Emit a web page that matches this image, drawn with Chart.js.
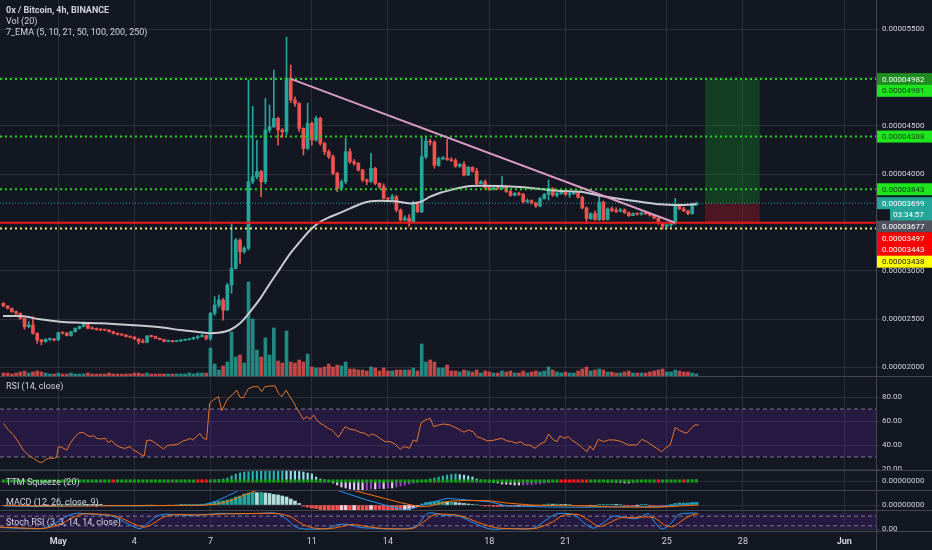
<!DOCTYPE html>
<html>
<head>
<meta charset="utf-8">
<title>0x / Bitcoin, 4h, BINANCE</title>
<script src="https://cdn.jsdelivr.net/npm/chart.js@4.4.1/dist/chart.umd.min.js"></script>
<style>
  html, body { margin: 0; padding: 0; background: #131722; }
  #wrap { position: relative; width: 932px; height: 550px; overflow: hidden; background: #131722; font-family: Roboto, 'Noto Sans', sans-serif; }
  .pane { position: absolute; left: 0; width: 932px; }
  .pane canvas { display: block; }
  .sep { position: absolute; left: 0; width: 932px; height: 1px; background: #434651; }
  .vsep { position: absolute; left: 876px; top: 0; width: 1px; height: 550px; background: #434651; }
  .lbl { position: absolute; left: 6px; color: #d1d4dc; font-size: 9px; line-height: 11px; white-space: nowrap; }
</style>
</head>
<body>
<div id="wrap">
  <div class="pane" style="top:0;height:376px"><canvas id="mainChart" width="932" height="376"></canvas></div>
  <div class="pane" style="top:377px;height:93px"><canvas id="rsiChart" width="932" height="93"></canvas></div>
  <div class="pane" style="top:471px;height:19px"><canvas id="ttmChart" width="932" height="19"></canvas></div>
  <div class="pane" style="top:491px;height:19px"><canvas id="macdChart" width="932" height="19"></canvas></div>
  <div class="pane" style="top:511px;height:39px"><canvas id="stochChart" width="932" height="39"></canvas></div>
  <div class="sep" style="top:376px"></div>
  <div class="sep" style="top:470px"></div>
  <div class="sep" style="top:490px"></div>
  <div class="sep" style="top:510px"></div>
  <div class="sep" style="top:531px"></div>
  <div class="vsep"></div>
  <div class="lbl" style="top:5px;font-weight:bold">0x / Bitcoin, 4h, BINANCE</div>
  <div class="lbl" style="top:16px">Vol (20)</div>
  <div class="lbl" style="top:27px">7_EMA (5, 10, 21, 50, 100, 200, 250)</div>
  <div class="lbl" style="top:381px">RSI (14, close)</div>
  <div class="lbl" style="top:477px">TTM Squeeze (20)</div>
  <div class="lbl" style="top:497px">MACD (12, 26, close, 9)</div>
  <div class="lbl" style="top:517px">Stoch RSI (3, 3, 14, 14, close)</div>
</div>
<script>
// prices are in satoshi (1e-8 BTC), one entry per 4h candle
const firstOpen = 2663;
const closes = [
  2636,2612,2578,2560,2508,2422,2440,2353,2284,2267,
  2290,2295,2285,2360,2355,2330,2370,2405,2425,2460,
  2405,2400,2392,2388,2386,2370,2353,2343,2336,2319,
  2315,2295,2267,2262,2326,2320,2302,2290,2270,2275,
  2268,2275,2282,2288,2295,2308,2319,2330,2300,2560,
  2646,2697,2594,2853,3025,3318,3197,3232,3921,3973,
  4025,3921,4456,4490,4576,4456,4438,4990,4766,4731,
  4473,4266,4524,4352,4576,4318,4232,4180,4008,3852,
  3921,4232,4128,4111,4042,3939,3925,4059,3904,3870,
  3749,3740,3766,3628,3525,3545,3508,3697,3611,4180,
  4340,4330,4090,4160,4165,4150,4140,4080,4100,3990,
  4070,4030,3900,3920,3860,3840,3860,3850,3865,3820,
  3780,3800,3790,3715,3725,3700,3670,3745,3790,3850,
  3780,3800,3810,3790,3795,3810,3760,3650,3540,3590,
  3530,3710,3530,3640,3620,3615,3630,3600,3570,3590,
  3585,3595,3590,3575,3545,3490,3460,3475,3490,3680,
  3640,3620,3590,3680,3699
];
const highs = [
  2672,2640,2615,2585,2565,2510,2475,2525,2360,2290,
  2300,2305,2300,2365,2370,2362,2375,2410,2430,2475,
  2462,2420,2410,2400,2395,2392,2375,2360,2350,2340,
  2325,2320,2300,2295,2330,2335,2325,2305,2292,2282,
  2280,2280,2288,2295,2300,2315,2330,2345,2335,2570,
  2732,2749,2715,2870,3490,3335,3330,3250,4973,4700,
  4350,4040,4783,4714,5076,4590,4470,5417,5128,4800,
  4740,4480,4731,4540,4600,4590,4330,4250,4200,4020,
  3940,4370,4260,4150,4120,4050,3950,4215,4070,3910,
  3900,3760,3790,3780,3640,3570,3580,3720,3710,4387,
  4380,4360,4345,4175,4180,4360,4170,4160,4110,4130,
  4080,4075,4060,3935,3940,3870,3870,3870,3973,3870,
  3830,3810,3815,3800,3745,3735,3710,3760,3800,3939,
  3860,3810,3820,3820,3810,3820,3815,3770,3660,3600,
  3620,3783,3720,3650,3660,3650,3645,3640,3610,3600,
  3600,3610,3600,3600,3580,3550,3500,3485,3495,3749,
  3690,3660,3625,3700,3710
];
const lows = [
  2630,2605,2570,2550,2500,2395,2410,2345,2250,2233,
  2260,2280,2275,2280,2345,2325,2325,2365,2395,2420,
  2400,2395,2385,2380,2380,2365,2345,2335,2330,2315,
  2305,2290,2242,2255,2255,2312,2298,2285,2265,2265,
  2262,2265,2270,2278,2285,2290,2295,2315,2285,2280,
  2540,2620,2490,2590,2767,3020,3077,3180,3215,3900,
  3950,3766,3900,4430,4480,4300,4380,4404,4740,4700,
  4440,4197,4250,4300,4340,4300,4200,4160,3990,3818,
  3830,3900,4110,4090,4030,3920,3890,3910,3890,3850,
  3740,3720,3730,3610,3510,3515,3460,3500,3600,3600,
  4160,4300,4060,4080,4150,4140,4130,4070,4070,3980,
  3985,4020,3890,3900,3850,3830,3835,3840,3845,3810,
  3770,3775,3780,3700,3700,3690,3655,3660,3740,3730,
  3770,3760,3790,3780,3760,3790,3750,3640,3490,3530,
  3520,3520,3520,3525,3610,3600,3610,3590,3560,3570,
  3575,3575,3580,3565,3535,3480,3430,3440,3450,3480,
  3630,3610,3580,3585,3680
];
const volumes = [
  3,3,2,3,4,5,3,4,5,4, 3,2,2,3,2,2,3,2,2,2, 3,2,2,2,2,3,2,2,2,2,
  2,3,3,2,3,2,2,2,2,2, 2,2,2,2,3,2,3,3,3,
  28,12,6,10,14,44,19,21,13,94,
  57,26,19,38,21,48,15,13,45,14,
  13,16,14,22,9,8,8,9,12,9,
  11,10,14,7,7,6,6,5,9,8,
  5,8,5,5,6,6,6,6,8,5,
  32,14,16,14,8,8,11,5,5,4,
  6,5,4,6,3,5,4,3,3,5,
  4,5,3,3,5,3,4,5,4,5,
  9,6,4,3,4,3,3,5,7,9,
  5,6,7,6,4,4,3,3,4,5,
  3,3,3,3,4,5,6,7,4,4,
  6,5,4,4,3,2
];
// EMA line: [candle index, price]
const emaPoints = [
  [-0.1,2532],[3.9,2532],[8.7,2498],[13.4,2473],[18.1,2463],[22.9,2457],[30,2439],[37.1,2415],
  [41.8,2388],[46.5,2364],[48.9,2355],[51,2360],[53.6,2388],[56,2457],[58.4,2577],[60.8,2715],
  [63.1,2870],[65.5,3025],[67.9,3181],[70.2,3301],[72.6,3422],[75,3507],[77.4,3559],[79.8,3601],
  [82.1,3646],[84.5,3691],[86.9,3718],[89.2,3725],[92.7,3718],[96.3,3697],[98.7,3712],[101,3766],
  [103.4,3807],[105.8,3835],[108.1,3859],[110.5,3877],[112.9,3880],[117.6,3877],[122.3,3866],
  [127.1,3846],[131.8,3825],[136.5,3818],[141.2,3776],[146,3742],[150.7,3715],[155.4,3687],
  [160.2,3680],[164,3687]
];
const trendPoints = [[68,4985],[159,3497]];
const greenLevels = [4982, 4388, 3843];
const redLevel = 3497;
const yellowLevel = 3438;
const lastPrice = 3699;
const boxStart = 166, boxEnd = 179, boxTarget = 4982, boxStop = 3497;

const dateTicks = [13, 31, 49, 73, 91, 115, 133, 157, 175, 199];
const dateLabels = ['May', '4', '7', '11', '14', '18', '21', '25', '28', 'Jun'];
const priceTicks = [2000, 2500, 3000, 3500, 4000, 4500, 5000, 5500];
const hiddenPriceTicks = [3500, 5000];

const markerPrices = [4982, 4981, 4388, 3843, 3699, 3699, 3677, 3497, 3443, 3438];
const markerTexts  = ['', '', '', '', '', '03:34:57', '', '', '', ''];
const markerBg = ['#1e8c1e', '#1ee61e', '#1ee61e', '#1ee61e', '#26a69a', '#26a69a', '#50535e', '#ff0000', '#ff0000', '#ffff00'];
const markerFg = ['#ffffff', '#0b3d0b', '#0b3d0b', '#0b3d0b', '#ffffff', '#ffffff', '#ffffff', '#ffffff', '#ffffff', '#222222'];

const rsiPoints = [
  [0,58],[1.2,52.5],[2.4,48.3],[3.5,42.8],[4.7,35.8],[5.9,31.7],[7.1,28.9],[8.3,26.1],[9.1,25.3],[9.9,27.5],
  [10.6,28.9],[11.8,28.9],[12.6,29.7],[13,38.6],[13.8,38.1],[15,35.8],[15.8,41.4],[17,47],[17.7,49.7],[18.8,50.6],
  [19.7,48.3],[20.5,47],[21.3,47.8],[22.1,45.6],[22.9,45],[24.1,45.6],[24.8,42.1],[25.6,43.6],[26.4,40.8],[27.6,38.1],
  [28.8,37.2],[30,38.6],[30.8,35.8],[32,33.6],[32.7,31.7],[33.3,30.8],[33.9,43.6],[34.7,44.2],[35.5,42.8],[36.3,40.8],
  [37.1,38.6],[37.9,36.7],[38.7,39.2],[39.4,40],[40.2,40],[41.4,40.8],[42.6,43.6],[43.4,44.2],[44.2,45.6],[44.8,44.2],
  [45.7,47],[46.5,49.7],[47.3,45.6],[48.1,44.7],[48.8,74.7],[49.7,77.5],[50.9,80.3],[51.7,68.6],[52.9,77.5],[53.6,80.3],
  [54.4,82.5],[55.2,85.8],[56,79.7],[56.8,79.4],[58,87.2],[59.2,88.6],[60.3,88.6],[61.1,84.4],[61.9,88.6],[63.1,89.2],
  [64.3,89.2],[65.1,83.1],[65.9,80.3],[66.9,85.8],[67.8,80.3],[68.6,76.1],[69.4,70.6],[70.2,66.4],[71,61.4],[71.8,63.6],
  [72.6,61.4],[73.4,65],[74.2,60.8],[74.9,58.1],[75.7,56.7],[76.9,53.9],[77.7,52.5],[78.5,49.7],[79.3,46.4],[80.1,51.1],
  [80.9,55.3],[82,53.1],[83.2,52.5],[84.4,50.6],[85.6,49.7],[86.4,47.5],[87.2,49.2],[88,48.3],[89.1,45.6],[90.3,42.8],
  [91.5,42.8],[92.7,40.8],[93.9,36.4],[94.7,38.6],[95.5,38.1],[96.1,37.2],[97,44.2],[97.8,42.8],[98.8,58.1],[99.8,60.8],
  [101,62.2],[101.8,55.3],[103,56.7],[104.1,57.5],[105.7,56.7],[106.9,54.7],[108.1,52.5],[109,50.6],[110,52.5],[111.2,51.1],
  [112,47],[113.2,45.6],[114.4,43.6],[115.6,43.6],[116.8,44.7],[117.9,45.6],[119.1,43.6],[120.3,42.8],[121.5,41.4],[122.3,42.8],
  [123.5,40],[124.6,40],[125.8,37.2],[127,40.8],[128.2,42.8],[129,49.2],[130.2,44.2],[131,42.8],[131.7,47.5],[132.7,45.6],
  [133.7,47],[134.5,44.2],[135.7,41.4],[136.9,38.1],[138.1,34.4],[138.8,39.2],[139.6,35.8],[140.8,44.7],[142,42.8],[143.2,44.2],
  [144.4,44.2],[145.6,43.6],[146.7,42],[147.9,40],[149.1,40],[149.9,40],[151.1,44.7],[152.3,42.8],[153.4,40],[154.6,37.2],
  [155.8,34.4],[156.6,37.2],[157.8,40],[159,54.7],[160.1,51.9],[161.7,49.7],[162.9,54.7],[163.7,56.7],[164.5,56.7]
];

const ttmVals = [
  0,0,0,0,0,0,0,0,0,0, 0,0,0,0,0,0,0,0,0,0, 0,0,0,0,0,0,0,0,0,0,
  0,0,0,0,0,0,0,0,0,0, 0,0,0,0,0,0,0,0,0,0,
  1,1.5,2,3,5,7,8,9,9.2,9.5,
  9.7,9.8,10,10.2,10.4,10.5,10.6,10.4,10.2,10,
  9.5,9,8,7,4,2,1,0.5,
  -2,-4,-6,-7,-8,-8.5,-9,-9,-8.5,-8,-8,-7.5,-7.5,-7,-7,-6,-5,-4,-3,-2,-1,
  0,1,2,3,4,5,6,6.5,7,6.5,6,5,4,2,1,0.3,
  -1,-1.5,-2,-3,-3.2,-3.5,-4,-4,-3.8,-3.6,-3.5,-3,-2.8,-2,-1.5,-1,-0.3,
  0,0,0,0,0,0,0,0,0,0,0,-1,-1,-1.2,-1.5,-2,-2,-1.8,-1,-0.8,
  0,0,0,0,0,0,0,0,0.5,0.8,1,1,1.2
];
const ttmRedIdx = [26, 46, 47, 48, 132, 133, 134, 135, 136, 137, 138, 155, 161];

const macdHist = [
  -0.5,-0.5,-0.6,-0.6,-0.8,-1,-0.8,-1,-1.2,-1,
  -0.8,-0.5,-0.3,0.3,0.5,0.4,0.6,0.8,0.8,1,
  0.6,0.4,0.3,0.2,-0.2,-0.3,-0.4,-0.4,-0.4,-0.5,
  -0.5,-0.6,-0.7,-0.6,-0.2,0,-0.2,-0.3,-0.3,-0.2,
  -0.2,0,0.2,0.3,0.4,0.5,0.6,0.8,0.8,2,
  3,3.5,4,5,6,8,9,11,12,12.5,
  12.3,12.5,12,11.5,10.5,10,9,8,6,4,
  1.5,-1,-2,-3,-3.5,-4.5,-5,-6,-6.5,-6.5,
  -6,-5.5,-5.5,-5,-5,-5,-5,-4.5,-4.5,-4.5,
  -5,-5,-5,-5.5,-5.5,-5,-4.5,-3,-1.5,1,
  2.5,3,3.5,3.5,3.5,3,3,2.5,2,1.5,
  1,0.5,0.5,-0.5,-1,-1,-1.5,-1.5,-1,-1,
  -1.5,-1.5,-1,-1,-1,-0.5,-0.5,-0.5,0.5,1,
  0.8,0.8,0.5,0.3,0.3,-0.3,-0.5,-0.8,-1,-0.8,
  -0.5,0.3,0.3,0.3,0.3,0.2,0.2,-0.2,-0.3,-0.3,
  -0.2,0.2,0.2,-0.2,-0.4,-0.6,-0.8,-0.5,0.3,1.5,
  2,2,2,2.5,2.5
];
const macdLine = [
  [0,-1],[10,-1.5],[20,-0.5],[30,-1],[40,-0.5],[47,0],[49,2],[51,5],[53,9],[55,13],[57,18],[62,26],
  [68,28],[74,22],[80,13.3],[86,5],[92,-2],[95,-5],[98,-2],[101,2.3],[105,6.7],[110,5],[115,3.3],
  [119,-1],[125,-1.5],[130,-2],[139,-2.3],[145,-1.7],[155,-1.7],[160,0],[164.5,2.3]
];
const macdSignal = [
  [0,-0.5],[10,-1],[20,-1],[30,-0.5],[40,-0.5],[47,-0.3],[50,0.5],[53,3.3],[57,10],[59,13],[64,22],
  [70,25],[78,20],[85,12.3],[94,2.3],[98.6,-1.7],[101,-1],[105.7,4],[110,4.5],[115,4.3],[119,2],
  [125,0],[130,-0.5],[139,-1],[145,-2],[155,-2.3],[160,-1],[164.5,0]
];

const stochK = [
  [-0.8,10],[3.1,5],[7.1,2],[9.5,5],[12.6,40],[15,80],[17.3,98],[19.7,95],[22.9,88],[25.2,85],
  [27.6,60],[30,25],[32.3,3],[33.9,30],[36.3,80],[38.7,92],[43.4,85],[48.1,90],[51.3,98],[56,95],
  [60.7,98],[64.7,98],[67.1,60],[69.4,10],[71.8,0],[76.5,2],[78.9,25],[81.3,30],[84.4,10],[87.6,5],
  [90.7,0],[95.5,2],[97.8,20],[100.2,95],[101.8,100],[104.1,85],[107.3,85],[111.2,40],[115.2,0],[119.1,2],
  [125.4,5],[128.6,60],[131,95],[134.9,90],[137.3,40],[139.6,5],[142,40],[144.4,80],[147.5,70],[149.9,65],
  [152.6,95],[154.2,40],[155.8,0],[157.8,30],[159.8,90],[161.7,98],[164.1,100]
];
const stochD = [
  [-0.8,12],[3,8],[7,4],[10,5],[13.5,30],[16,65],[18.5,92],[21,95],[24,90],[27,78],[29,55],[31.5,25],
  [33.5,12],[35.5,35],[38,75],[41,90],[46,88],[50,92],[55,96],[60,97],[65,96],[68,75],[70.5,35],[73,8],
  [77,2],[80,15],[82.5,28],[85.5,18],[89,5],[93,1],[97,5],[99.5,45],[102,90],[105,92],[108.5,80],[112.5,40],
  [116.5,8],[121,2],[126,4],[130,45],[132.5,85],[136,90],[138.5,55],[141,15],[143.5,40],[146,70],[149,70],
  [151.5,75],[154,70],[156.5,25],[158.5,15],[161,60],[163,88],[164.5,95]
];

// ---- styling ----
const X_MIN = -0.8, X_MAX = 206.5;
const GRID = '#2a2e39';
const TEXT = '#d1d4dc';
const FONT = 'Roboto, "Noto Sans", sans-serif';
const UP = '#26a69a', DOWN = '#ef5350';
Chart.defaults.font.family = FONT;

const fmtPrice = v => (v * 1e-8).toFixed(8);
const pts = arr => arr.map(([x, y]) => ({ x, y }));

const opens = closes.map((c, i) => i === 0 ? firstOpen : closes[i - 1]);
const candleColors = closes.map((c, i) => c >= opens[i] ? UP : DOWN);

function hLine(v, color, width, dash, order) {
  return {
    type: 'line', data: [{ x: X_MIN, y: v }, { x: X_MAX, y: v }],
    borderColor: color, borderWidth: width, borderDash: dash,
    pointRadius: 0, order
  };
}

// no automatic padding: the pane edges are the value range edges
function noPad(s) { s.paddingTop = 0; s.paddingBottom = 0; s.paddingLeft = 0; s.paddingRight = 0; }

function xAxis(showLabels) {
  return {
    type: 'linear', min: X_MIN, max: X_MAX, offset: false,
    grid: { color: GRID, offset: false, drawTicks: false },
    border: { display: false },
    afterBuildTicks: s => { s.ticks = dateTicks.map(v => ({ value: v })); },
    ticks: {
      display: showLabels, autoSkip: false, maxRotation: 0, padding: 5, color: TEXT,
      font: c => ({ family: FONT, size: 9, weight: (c.tick && isNaN(+c.tick.label)) ? 'bold' : 'normal' }),
      callback: (v, i) => dateLabels[i]
    },
    afterFit: s => { s.height = showLabels ? 19 : 0; noPad(s); }
  };
}

function yAxis(min, max, ticks, fmt) {
  return {
    position: 'right', min, max,
    grid: { color: GRID, drawTicks: true, tickLength: 4 },
    border: { display: false },
    afterBuildTicks: s => { s.ticks = ticks.map(v => ({ value: v })); },
    ticks: { autoSkip: false, padding: 2, color: TEXT, font: { family: FONT, size: 8 }, callback: fmt },
    afterFit: s => { s.width = 56; noPad(s); }
  };
}

function baseOptions(scales) {
  return {
    responsive: false, animation: false, events: [],
    layout: { padding: 0, autoPadding: false },
    plugins: { legend: { display: false }, tooltip: { enabled: false } },
    scales
  };
}

// price labels stacked on the right axis
const priceMarkers = {
  id: 'priceMarkers',
  afterDraw(chart) {
    const { ctx, chartArea } = chart;
    const ys = chart.scales.y;
    let prev = -Infinity;
    ctx.save();
    ctx.font = '8px ' + FONT;
    ctx.textBaseline = 'middle';
    markerPrices.forEach((p, i) => {
      const y = Math.max(ys.getPixelForValue(p), prev + 11.7);
      prev = y;
      const left = chartArea.right + (markerTexts[i] ? 14 : 1);
      ctx.fillStyle = markerBg[i];
      ctx.fillRect(left, y - 6, chart.width - left, 12);
      ctx.fillStyle = markerFg[i];
      ctx.fillText(markerTexts[i] || fmtPrice(p), markerTexts[i] ? left + 3 : chartArea.right + 6, y + 0.5);
    });
    ctx.restore();
  }
};

// ---- main price pane ----
new Chart(document.getElementById('mainChart'), {
  type: 'bar',
  data: {
    datasets: [
      {
        data: volumes.map((v, i) => ({ x: i, y: v })), yAxisID: 'yv',
        backgroundColor: candleColors.map(c => c + 'cc'), barThickness: 3, grouped: false, order: 10
      },
      {
        type: 'line', data: [{ x: boxStart, y: boxTarget }, { x: boxEnd, y: boxTarget }],
        borderWidth: 0, pointRadius: 0, fill: { value: lastPrice },
        backgroundColor: 'rgba(20,110,40,0.45)', order: 9
      },
      {
        type: 'line', data: [{ x: boxStart, y: boxStop }, { x: boxEnd, y: boxStop }],
        borderWidth: 0, pointRadius: 0, fill: { value: lastPrice },
        backgroundColor: 'rgba(160,20,35,0.42)', order: 9
      },
      {
        data: closes.map((c, i) => ({ x: i, y: [lows[i], highs[i]] })),
        backgroundColor: candleColors, barThickness: 1, grouped: false, order: 6
      },
      {
        data: closes.map((c, i) => ({ x: i, y: [opens[i], c] })),
        backgroundColor: candleColors, barThickness: 3, minBarLength: 1, grouped: false, order: 5
      },
      hLine(lastPrice, '#26a69a', 1, [1, 2], 7),
      ...greenLevels.map(v => hLine(v, '#22d322', 2, [2, 3], 3)),
      hLine(redLevel, '#f21818', 2, [], 3),
      hLine(yellowLevel, '#e8e870', 2, [2, 3], 3),
      {
        type: 'line', data: pts(emaPoints), borderColor: '#c9cbd1', borderWidth: 2,
        pointRadius: 0, cubicInterpolationMode: 'monotone', order: 4
      },
      {
        type: 'line', data: pts(trendPoints), borderColor: '#d99bc5', borderWidth: 2,
        pointRadius: 0, order: 1
      }
    ]
  },
  options: baseOptions({
    x: xAxis(false),
    y: yAxis(1912, 5800, priceTicks, v => hiddenPriceTicks.includes(v) ? '' : fmtPrice(v)),
    yv: { display: false, min: 0, max: 376 }
  }),
  plugins: [priceMarkers]
});

// ---- RSI ----
new Chart(document.getElementById('rsiChart'), {
  type: 'line',
  data: {
    datasets: [
      {
        data: [{ x: X_MIN, y: 70 }, { x: X_MAX, y: 70 }], borderWidth: 0, pointRadius: 0,
        fill: { value: 30 }, backgroundColor: 'rgba(110,40,180,0.22)', order: 5
      },
      hLine(70, '#787b86', 1, [4, 3], 4),
      hLine(30, '#787b86', 1, [4, 3], 4),
      { data: pts(rsiPoints), borderColor: '#e8762c', borderWidth: 1, pointRadius: 0, order: 0 }
    ]
  },
  options: baseOptions({
    x: xAxis(false),
    y: yAxis(19.17, 96.67, [20, 40, 60, 80], v => v.toFixed(2))
  })
});

// ---- TTM Squeeze ----
const ttmColors = ttmVals.map((v, i) => {
  const p = i > 0 ? ttmVals[i - 1] : 0;
  if (v >= 0) return v >= p ? '#26b5b0' : '#8fe3ee';
  return v <= p ? '#e6cdf2' : '#a03cc8';
});
new Chart(document.getElementById('ttmChart'), {
  type: 'bar',
  data: {
    datasets: [
      {
        type: 'line', data: closes.map((c, i) => ({ x: i, y: 0 })), showLine: false,
        pointStyle: 'rect', pointRadius: 2.2, pointBorderWidth: 0,
        pointBackgroundColor: closes.map((c, i) => ttmRedIdx.includes(i) ? '#ff1a1a' : '#18a018'), order: 0
      },
      {
        data: ttmVals.map((v, i) => ({ x: i, y: v })), backgroundColor: ttmColors,
        barThickness: 1.5, grouped: false, order: 1
      }
    ]
  },
  options: baseOptions({
    x: xAxis(false),
    y: yAxis(-9, 10, [0], () => '0.00000000')
  })
});

// ---- MACD ----
const macdColors = macdHist.map((v, i) => {
  const p = i > 0 ? macdHist[i - 1] : 0;
  if (v >= 0) return v >= p ? '#26a69a' : '#b2dfdb';
  return v <= p ? '#ef5350' : '#ffcdd2';
});
new Chart(document.getElementById('macdChart'), {
  type: 'bar',
  data: {
    datasets: [
      {
        data: macdHist.map((v, i) => ({ x: i, y: v })), backgroundColor: macdColors,
        barThickness: 3, grouped: false, order: 3
      },
      { type: 'line', data: pts(macdLine), borderColor: '#2196f3', borderWidth: 1, pointRadius: 0, order: 1 },
      { type: 'line', data: pts(macdSignal), borderColor: '#ff6d00', borderWidth: 1, pointRadius: 0, order: 0 }
    ]
  },
  options: baseOptions({
    x: xAxis(false),
    y: yAxis(-5, 14, [0], () => '0.00000000')
  })
});

// ---- Stoch RSI ----
new Chart(document.getElementById('stochChart'), {
  type: 'line',
  data: {
    datasets: [
      {
        data: [{ x: X_MIN, y: 100 }, { x: X_MAX, y: 100 }], borderWidth: 0, pointRadius: 0,
        fill: { value: 0 }, backgroundColor: 'rgba(110,40,180,0.22)', order: 5
      },
      hLine(80, '#787b86', 1, [4, 3], 4),
      hLine(20, '#787b86', 1, [4, 3], 4),
      { data: pts(stochK), borderColor: '#2196f3', borderWidth: 1, pointRadius: 0, tension: 0.3, order: 1 },
      { data: pts(stochD), borderColor: '#ff6d00', borderWidth: 1, pointRadius: 0, tension: 0.3, order: 0 }
    ]
  },
  options: baseOptions({
    x: xAxis(true),
    y: yAxis(-12.5, 112.5, [0], () => '0.00')
  })
});
</script>
</body>
</html>
